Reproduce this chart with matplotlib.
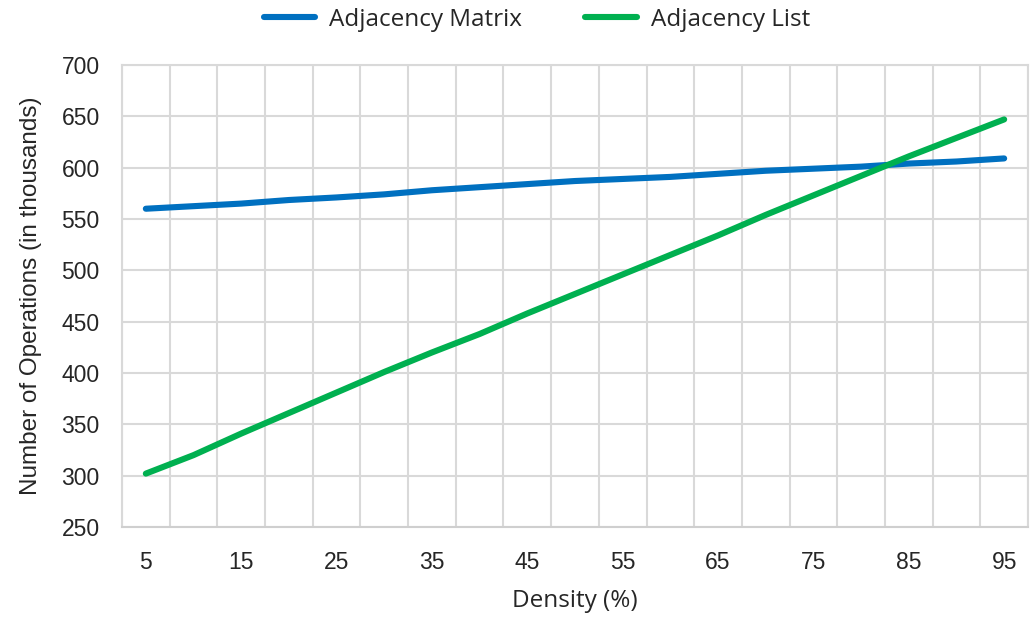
import matplotlib.pyplot as plt
from matplotlib.lines import Line2D

density = [5, 10, 15, 20, 25, 30, 35, 40, 45, 50, 55, 60, 65, 70, 75, 80, 85, 90, 95]
matrix_ops = [560, 562.5, 565, 568.5, 571, 574, 578, 581, 584, 587, 589, 591, 594, 597, 599, 601, 604, 606, 609]
list_ops = [302, 320, 341, 361, 381, 401, 420, 438, 458, 477, 496, 515, 534, 554, 573, 592, 611, 629, 647]

MATRIX_COLOR = "#0070C0"
LIST_COLOR = "#00B050"
GRID_COLOR = "#D9D9D9"

plt.rcParams["font.family"] = ["Liberation Sans", "DejaVu Sans"]

fig = plt.figure(figsize=(10.35, 6.19), dpi=100)
ax = fig.add_axes([122 / 1035, 1 - 527 / 619, (1028 - 122) / 1035, (527 - 65) / 619])

idx = list(range(len(density)))
ax.plot(idx, matrix_ops, color=MATRIX_COLOR, lw=4.4, solid_capstyle="round", zorder=3)
ax.plot(idx, list_ops, color=LIST_COLOR, lw=4.4, solid_capstyle="round", zorder=3)

# category axis: gridlines sit between categories, labels on every other one
ax.set_xlim(-0.5, len(density) - 0.5)
ax.set_xticks([i - 0.5 for i in range(len(density) + 1)], minor=True)
ax.set_xticks(idx[::2])
ax.set_xticklabels([str(d) for d in density[::2]])
ax.set_ylim(250, 700)
ax.set_yticks(range(250, 701, 50))

ax.grid(True, which="minor", axis="x", color=GRID_COLOR, lw=1.5, zorder=0)
ax.grid(True, which="major", axis="y", color=GRID_COLOR, lw=1.5, zorder=0)
ax.tick_params(which="both", length=0)
ax.tick_params(axis="y", pad=16, labelsize=16.5, labelcolor="#262626")
ax.tick_params(axis="x", pad=17, labelsize=16.5, labelcolor="#262626")
for side in ["top", "right", "left"]:
    ax.spines[side].set_color(GRID_COLOR)
    ax.spines[side].set_linewidth(1.5)
ax.spines["bottom"].set_color("#CFCFCF")
ax.spines["bottom"].set_linewidth(1.5)

ax.set_xlabel("Density (%)", fontsize=17.5, family=["Open Sans", "DejaVu Sans"],
              color="#262626", labelpad=11)
ax.set_ylabel("Number of Operations (in thousands)", fontsize=17.5, color="#262626", labelpad=14)

handles = [
    Line2D([], [], color=MATRIX_COLOR, lw=4.4, solid_capstyle="round"),
    Line2D([], [], color=LIST_COLOR, lw=4.4, solid_capstyle="round"),
]
fig.legend(handles, ["Adjacency Matrix", "Adjacency List"], loc="center",
           bbox_to_anchor=(537 / 1035, 1 - 20 / 619), ncol=2, frameon=False,
           prop={"family": ["Open Sans", "DejaVu Sans"], "size": 17.5},
           handlelength=2.1, columnspacing=2.6, handletextpad=0.6, labelcolor="#262626")

fig.savefig("out.png", dpi=100, facecolor="white")
